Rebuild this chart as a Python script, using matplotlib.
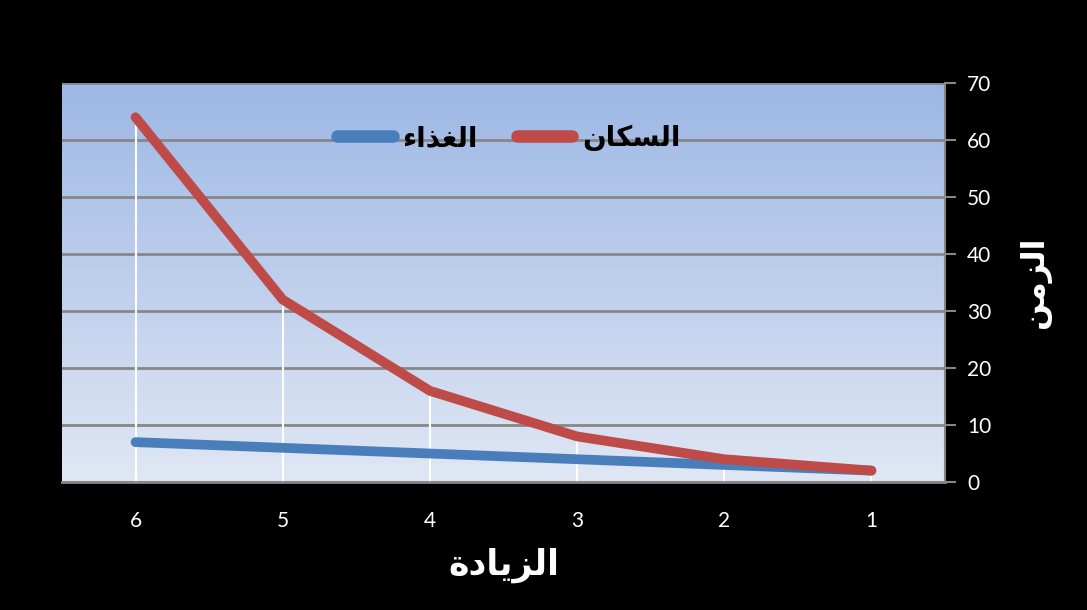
import matplotlib
matplotlib.use("Agg")
import matplotlib.pyplot as plt
import numpy as np
from matplotlib.colors import LinearSegmentedColormap

# Data
categories = [6, 5, 4, 3, 2, 1]
population = [64, 32, 16, 8, 4, 2]     # السكان
food = [7, 6, 5, 4, 3, 2]              # الغذاء
yticks = [0, 10, 20, 30, 40, 50, 60, 70]

# Arabic labels (presentation forms, visual order for correct shaping)
lbl_pop = "\uFEE5\uFE8E\uFEDC\uFEB4\uFEDF\uFE8D"      # السكان
lbl_food = "\uFE80\uFE8D\uFEAC\uFED0\uFEDF\uFE8D"     # الغذاء
lbl_x = "\uFE93\uFEA9\uFE8E\uFEF3\uFEB0\uFEDF\uFE8D"  # الزيادة
lbl_y = "\uFEE6\uFEE3\uFEB0\uFEDF\uFE8D"              # الزمن

fig = plt.figure(figsize=(10.87, 6.10), dpi=100, facecolor="black")
ax = fig.add_axes([0.057, 0.2098, 0.8124, 0.654])
ax.set_facecolor("black")

xpos = np.array(categories, dtype=float)

# gradient background
cmap = LinearSegmentedColormap.from_list("bg", ["#e0e7f4", "#9db8e5"])
grad = np.linspace(0, 1, 256).reshape(-1, 1)
ax.imshow(grad, aspect="auto", cmap=cmap, origin="lower",
          extent=[6.5, 0.5, 0, 70], zorder=0, interpolation="bilinear")

ax.set_xlim(6.5, 0.5)
ax.set_ylim(0, 70)

# gridlines
for y in yticks:
    ax.axhline(y, color="#878787", lw=2, zorder=1)

# drop lines (white) from the highest point of each category
tops = [max(p, f) for p, f in zip(population, food)]
ax.vlines(xpos, 0, tops, colors="white", lw=1.5, zorder=2)

ax.plot(xpos, food, color="#4a7ebb", lw=7, solid_capstyle="round",
        solid_joinstyle="round", zorder=3, label=lbl_food)
ax.plot(xpos, population, color="#be4b48", lw=7, solid_capstyle="round",
        solid_joinstyle="round", zorder=4, label=lbl_pop)

for s in ["left", "top"]:
    ax.spines[s].set_visible(False)
ax.spines["right"].set_color("#878787")
ax.spines["right"].set_linewidth(1.5)
ax.spines["bottom"].set_color("#878787")
ax.spines["bottom"].set_linewidth(2)

ax.yaxis.tick_right()
ax.yaxis.set_label_position("right")
ax.set_yticks(yticks)
ax.set_yticklabels([str(v) for v in yticks], fontsize=15, color="white",
                   family="Lato")
ax.tick_params(axis="y", which="major", length=8, width=1.5, color="#878787",
               pad=8)
ax.set_xticks(xpos)
ax.set_xticklabels([str(c) for c in categories], fontsize=15, color="white",
                   family="Lato")
ax.tick_params(axis="x", length=0, pad=21)

ax.set_xlabel(lbl_x, fontsize=25, fontweight="bold", color="white",
              family="DejaVu Sans", labelpad=12)
ax.set_ylabel(lbl_y, fontsize=23, fontweight="bold", color="white",
              family="DejaVu Sans", rotation=90, labelpad=20)

leg = ax.legend(loc="upper center", bbox_to_anchor=(0.506, 0.96), ncol=2,
                frameon=False, handlelength=2.0, columnspacing=1.4,
                handletextpad=0.35,
                prop={"family": "DejaVu Sans", "weight": "bold", "size": 20})
for t in leg.get_texts():
    t.set_color("black")
for h in leg.get_lines():
    h.set_linewidth(9)

fig.savefig("out.png", dpi=100, facecolor="black")
